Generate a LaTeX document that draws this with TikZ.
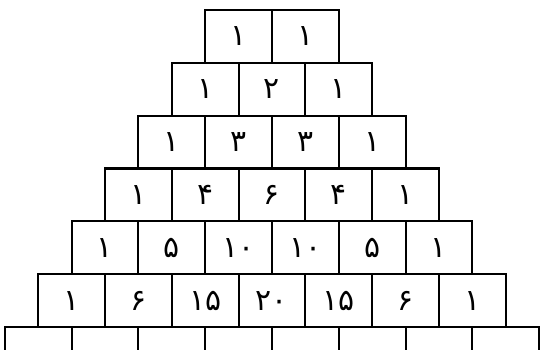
\documentclass[tikz,border=0pt]{standalone}
\usepackage{fontspec}
\newfontfamily\persianfont[Script=Arabic]{DejaVu Sans}
\begin{document}
\begin{tikzpicture}[x=0.02cm, y=-0.02cm,
  cellbox/.style={draw, line width=1.2pt, minimum width=1.336cm, minimum height=1.0566cm,
    inner sep=0pt, outer sep=0pt, font=\persianfont\fontsize{17}{20}\selectfont}]
% Frame of the picture
\useasboundingbox (0,0) rectangle (541,350);
\clip (0,0) rectangle (541,350);
% Rows of the triangle
\foreach \r/\vals in {1/{۱,۱}, 2/{۱,۲,۱}, 3/{۱,۳,۳,۱}, 4/{۱,۴,۶,۴,۱},
    5/{۱,۵,۱۰,۱۰,۵,۱}, 6/{۱,۶,۱۵,۲۰,۱۵,۶,۱}}{
  \foreach \v [count=\k] in \vals {
    \node[cellbox] (c-\r-\k) at ({272 + 66.8*(\k - (\r+2)/2)}, {36.4 + 52.83*(\r-1)}) {\v};
  }
}
% Last row, cut off at the bottom
\foreach \k in {1,...,8}{
  \node[cellbox] (c-7-\k) at ({272 + 66.8*(\k - 4.5)}, {36.4 + 52.83*6}) {};
}
\end{tikzpicture}
\end{document}
